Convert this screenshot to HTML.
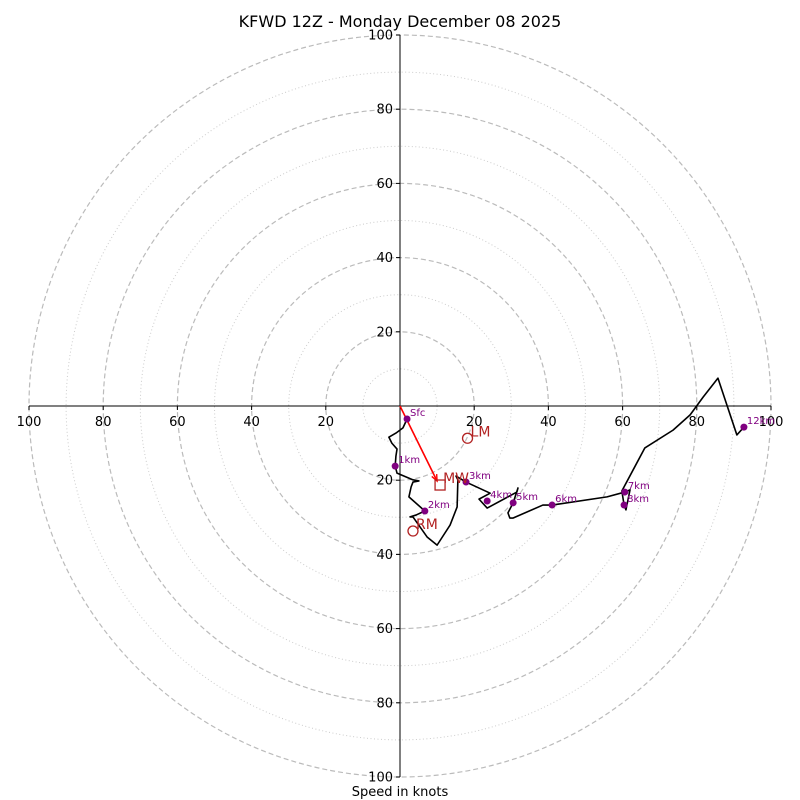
<!DOCTYPE html>
<html><head><meta charset="utf-8"><style>
body{margin:0;background:#fff;}
svg{display:block;font-family:"DejaVu Sans","Liberation Sans",sans-serif;}
</style></head><body>
<svg id="chart" width="800" height="800" viewBox="0 0 800 800">
<text x="400" y="27" font-size="16" text-anchor="middle">KFWD 12Z - Monday December 08 2025</text>
<text x="400" y="796" font-size="13" text-anchor="middle">Speed in knots</text>
<g id="grid"></g><g id="axes"></g><g id="trace"></g><g id="marks"></g>
</svg>
<script>
const traceU=[1.9,0.8,-1.1,-3.0,-2.2,-0.8,-1.1,-1.3,-0.8,3.5,5.1,3.5,3.0,2.4,6.7,4.3,2.7,3.5,5.4,7.3,10.0,13.5,15.4,15.6,15.1,17.8,24.3,21.3,23.5,31.5,31.8,30.5,29.1,29.6,30.5,38.5,41.0,55.8,60.6,62.0,60.9,60.4,59.8,66.0,73.6,78.2,81.7,85.7,90.8,92.7];
const traceV=[-3.5,-5.9,-7.3,-8.4,-10.0,-11.6,-13.5,-16.2,-18.1,-19.9,-20.2,-20.5,-21.8,-24.5,-28.3,-29.4,-29.9,-29.9,-32.6,-35.3,-37.5,-32.1,-27.2,-19.9,-18.9,-20.5,-23.5,-25.1,-27.5,-23.2,-22.1,-26.1,-28.8,-30.2,-30.2,-26.7,-26.7,-24.5,-23.2,-22.6,-28.0,-26.7,-22.9,-11.3,-6.5,-2.4,2.4,7.5,-7.8,-5.7];
const levelLabels=["Sfc","1km","2km","3km","4km","5km","6km","7km","8km","12km"];
const levelU=[1.9,-1.3,6.7,17.8,23.5,30.5,41.0,60.6,60.4,92.7];
const levelV=[-3.5,-16.2,-28.3,-20.5,-25.6,-26.1,-26.7,-23.2,-26.7,-5.7];
const motionLabels=["LM","MW","RM"];
const motionU=[18.2,10.8,3.5];
const motionV=[-8.7,-21.3,-33.7];
const ringValues=[10,20,30,40,50,60,70,80,90,100];
const tickLabels=["20","40","60","80","100"];
const tickValues=[20,40,60,80,100];

const NS="http://www.w3.org/2000/svg",CX=400,CY=406,S=3.71;
const sx=u=>CX+u*S, sy=v=>CY-v*S;
function mk(p,t,a){const e=document.createElementNS(NS,t);for(const k in a)e.setAttribute(k,a[k]);p.appendChild(e);return e;}
const grid=document.getElementById('grid'),axes=document.getElementById('axes'),trace=document.getElementById('trace'),marks=document.getElementById('marks');
ringValues.forEach(r=>{const major=r%20===0;
 const c=mk(grid,'circle',{cx:CX,cy:CY,r:r*S,fill:'none',stroke:major?'#bbb':'#ccc','stroke-width':major?1.2:1,'stroke-dasharray':major?'5,3':'1,2.5'});
 
 });
let l=mk(axes,'line',{x1:CX,y1:sy(100),x2:CX,y2:sy(-100),stroke:'#000','stroke-width':1});


l=mk(axes,'line',{x1:sx(-100),y1:CY,x2:sx(100),y2:CY,stroke:'#000','stroke-width':1});


tickValues.forEach((t,i)=>{
 [1,-1].forEach(s=>{
  mk(axes,'line',{x1:CX-4,y1:sy(s*t),x2:CX,y2:sy(s*t),stroke:'#000'});
  let tx=mk(axes,'text',{x:CX-7,y:sy(s*t)+4.5,'font-size':13,'text-anchor':'end'});tx.textContent=tickLabels[i];
  
  
  mk(axes,'line',{x1:sx(s*t),y1:CY,x2:sx(s*t),y2:CY+4,stroke:'#000'});
  tx=mk(axes,'text',{x:sx(s*t),y:CY+20,'font-size':13,'text-anchor':'middle'});tx.textContent=tickLabels[i];
  
  
 });});
const pts=traceU.map((u,i)=>sx(u)+','+sy(traceV[i])).join(' ');
const pl=mk(trace,'polyline',{points:pts,fill:'none',stroke:'#000','stroke-width':1.6,'stroke-linejoin':'round'});


// mean wind arrow
const mx=sx(motionU[1])-3,my=sy(motionV[1])-4;
const ar=mk(trace,'line',{x1:CX,y1:CY,x2:mx,y2:my,stroke:'#f00','stroke-width':1.6});


const ang=Math.atan2(my-CY,mx-CX);
mk(trace,'polyline',{points:[mx-7*Math.cos(ang-0.4),my-7*Math.sin(ang-0.4),mx,my,mx-7*Math.cos(ang+0.4),my-7*Math.sin(ang+0.4)].join(','),fill:'none',stroke:'#f00','stroke-width':1.4});
levelLabels.forEach((lab,i)=>{
 const c=mk(marks,'circle',{cx:sx(levelU[i]),cy:sy(levelV[i]),r:3.5,fill:'#800080'});
 
 
 const t=mk(marks,'text',{x:sx(levelU[i])+3,y:sy(levelV[i])-3,'font-size':10,fill:'#800080'});t.textContent=lab;
 
 });
motionLabels.forEach((lab,i)=>{
 const x=sx(motionU[i]),y=sy(motionV[i]);
 let m;
 if(lab==='MW')m=mk(marks,'rect',{x:x-5,y:y-5,width:10,height:10,fill:'none',stroke:'#b22222','stroke-width':1.3});
 else m=mk(marks,'circle',{cx:x,cy:y,r:5,fill:'none',stroke:'#b22222','stroke-width':1.3});
 
 
 const t=mk(marks,'text',{x:x+3,y:y-2,'font-size':14,fill:'#b22222'});t.textContent=lab;
 
 });
</script>
</body></html>
